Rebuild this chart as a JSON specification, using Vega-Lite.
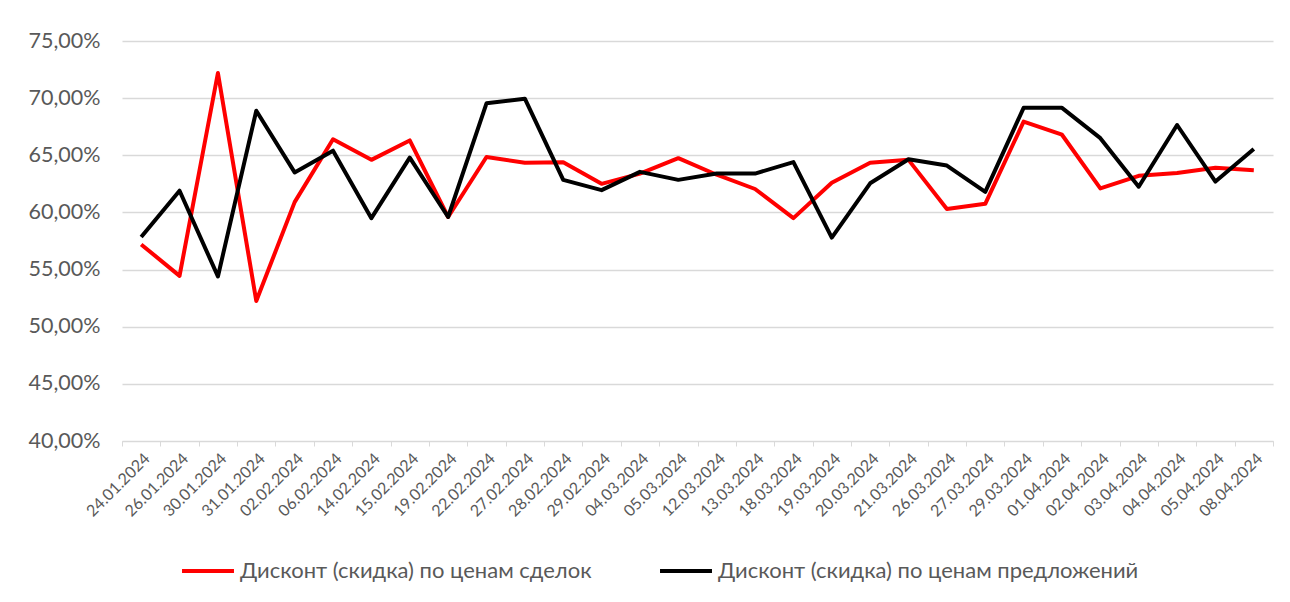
{
  "$schema": "https://vega.github.io/schema/vega-lite/v6.json",
  "width": 1151,
  "height": 400,
  "autosize": {"type": "none"},
  "padding": {"left": 122, "top": 41, "right": 17, "bottom": 161},
  "background": "#ffffff",
  "config": {
    "view": {"stroke": null},
    "font": "Lato"
  },
  "data": {
    "values": [
      {"date": "24.01.2024", "s": "Дисконт (скидка) по ценам сделок", "v": 57.2},
      {"date": "26.01.2024", "s": "Дисконт (скидка) по ценам сделок", "v": 54.45},
      {"date": "30.01.2024", "s": "Дисконт (скидка) по ценам сделок", "v": 72.2},
      {"date": "31.01.2024", "s": "Дисконт (скидка) по ценам сделок", "v": 52.25},
      {"date": "02.02.2024", "s": "Дисконт (скидка) по ценам сделок", "v": 60.9},
      {"date": "06.02.2024", "s": "Дисконт (скидка) по ценам сделок", "v": 66.4},
      {"date": "14.02.2024", "s": "Дисконт (скидка) по ценам сделок", "v": 64.6},
      {"date": "15.02.2024", "s": "Дисконт (скидка) по ценам сделок", "v": 66.3},
      {"date": "19.02.2024", "s": "Дисконт (скидка) по ценам сделок", "v": 59.6},
      {"date": "22.02.2024", "s": "Дисконт (скидка) по ценам сделок", "v": 64.85},
      {"date": "27.02.2024", "s": "Дисконт (скидка) по ценам сделок", "v": 64.35},
      {"date": "28.02.2024", "s": "Дисконт (скидка) по ценам сделок", "v": 64.4},
      {"date": "29.02.2024", "s": "Дисконт (скидка) по ценам сделок", "v": 62.5},
      {"date": "04.03.2024", "s": "Дисконт (скидка) по ценам сделок", "v": 63.4},
      {"date": "05.03.2024", "s": "Дисконт (скидка) по ценам сделок", "v": 64.75},
      {"date": "12.03.2024", "s": "Дисконт (скидка) по ценам сделок", "v": 63.3},
      {"date": "13.03.2024", "s": "Дисконт (скидка) по ценам сделок", "v": 62.05},
      {"date": "18.03.2024", "s": "Дисконт (скидка) по ценам сделок", "v": 59.5},
      {"date": "19.03.2024", "s": "Дисконт (скидка) по ценам сделок", "v": 62.6},
      {"date": "20.03.2024", "s": "Дисконт (скидка) по ценам сделок", "v": 64.35},
      {"date": "21.03.2024", "s": "Дисконт (скидка) по ценам сделок", "v": 64.6},
      {"date": "26.03.2024", "s": "Дисконт (скидка) по ценам сделок", "v": 60.3},
      {"date": "27.03.2024", "s": "Дисконт (скидка) по ценам сделок", "v": 60.75},
      {"date": "29.03.2024", "s": "Дисконт (скидка) по ценам сделок", "v": 67.95},
      {"date": "01.04.2024", "s": "Дисконт (скидка) по ценам сделок", "v": 66.8},
      {"date": "02.04.2024", "s": "Дисконт (скидка) по ценам сделок", "v": 62.1},
      {"date": "03.04.2024", "s": "Дисконт (скидка) по ценам сделок", "v": 63.2},
      {"date": "04.04.2024", "s": "Дисконт (скидка) по ценам сделок", "v": 63.45},
      {"date": "05.04.2024", "s": "Дисконт (скидка) по ценам сделок", "v": 63.9},
      {"date": "08.04.2024", "s": "Дисконт (скидка) по ценам сделок", "v": 63.7},
      {"date": "24.01.2024", "s": "Дисконт (скидка) по ценам предложений", "v": 57.85},
      {"date": "26.01.2024", "s": "Дисконт (скидка) по ценам предложений", "v": 61.9},
      {"date": "30.01.2024", "s": "Дисконт (скидка) по ценам предложений", "v": 54.4},
      {"date": "31.01.2024", "s": "Дисконт (скидка) по ценам предложений", "v": 68.9},
      {"date": "02.02.2024", "s": "Дисконт (скидка) по ценам предложений", "v": 63.5},
      {"date": "06.02.2024", "s": "Дисконт (скидка) по ценам предложений", "v": 65.4},
      {"date": "14.02.2024", "s": "Дисконт (скидка) по ценам предложений", "v": 59.5},
      {"date": "15.02.2024", "s": "Дисконт (скидка) по ценам предложений", "v": 64.8},
      {"date": "19.02.2024", "s": "Дисконт (скидка) по ценам предложений", "v": 59.6},
      {"date": "22.02.2024", "s": "Дисконт (скидка) по ценам предложений", "v": 69.55},
      {"date": "27.02.2024", "s": "Дисконт (скидка) по ценам предложений", "v": 69.95},
      {"date": "28.02.2024", "s": "Дисконт (скидка) по ценам предложений", "v": 62.85},
      {"date": "29.02.2024", "s": "Дисконт (скидка) по ценам предложений", "v": 61.95},
      {"date": "04.03.2024", "s": "Дисконт (скидка) по ценам предложений", "v": 63.55},
      {"date": "05.03.2024", "s": "Дисконт (скидка) по ценам предложений", "v": 62.85},
      {"date": "12.03.2024", "s": "Дисконт (скидка) по ценам предложений", "v": 63.4},
      {"date": "13.03.2024", "s": "Дисконт (скидка) по ценам предложений", "v": 63.4},
      {"date": "18.03.2024", "s": "Дисконт (скидка) по ценам предложений", "v": 64.4},
      {"date": "19.03.2024", "s": "Дисконт (скидка) по ценам предложений", "v": 57.8},
      {"date": "20.03.2024", "s": "Дисконт (скидка) по ценам предложений", "v": 62.55},
      {"date": "21.03.2024", "s": "Дисконт (скидка) по ценам предложений", "v": 64.65},
      {"date": "26.03.2024", "s": "Дисконт (скидка) по ценам предложений", "v": 64.1},
      {"date": "27.03.2024", "s": "Дисконт (скидка) по ценам предложений", "v": 61.8},
      {"date": "29.03.2024", "s": "Дисконт (скидка) по ценам предложений", "v": 69.15},
      {"date": "01.04.2024", "s": "Дисконт (скидка) по ценам предложений", "v": 69.15},
      {"date": "02.04.2024", "s": "Дисконт (скидка) по ценам предложений", "v": 66.5},
      {"date": "03.04.2024", "s": "Дисконт (скидка) по ценам предложений", "v": 62.25},
      {"date": "04.04.2024", "s": "Дисконт (скидка) по ценам предложений", "v": 67.65},
      {"date": "05.04.2024", "s": "Дисконт (скидка) по ценам предложений", "v": 62.7},
      {"date": "08.04.2024", "s": "Дисконт (скидка) по ценам предложений", "v": 65.55}
    ]
  },
  "mark": {"type": "line", "strokeWidth": 4, "strokeJoin": "round", "strokeCap": "butt"},
  "encoding": {
    "x": {
      "field": "date", "type": "ordinal", "sort": null,
      "scale": {"paddingInner": 0, "paddingOuter": 0},
      "axis": {
        "title": null, "labelAngle": -45, "labelFontSize": 16, "labelColor": "#595959",
        "domainColor": "#d9d9d9", "tickColor": "#d9d9d9", "tickBand": "extent", "tickSize": 5,
        "labelPadding": 4, "grid": false
      }
    },
    "y": {
      "field": "v", "type": "quantitative",
      "scale": {"domain": [40, 75], "nice": false, "zero": false},
      "axis": {
        "title": null, "values": [40, 45, 50, 55, 60, 65, 70, 75],
        "labelExpr": "replace(format(datum.value, '.2f'), '.', ',') + '%'",
        "labelFontSize": 21.5, "labelColor": "#595959", "labelPadding": 22,
        "domain": false, "ticks": false, "grid": true, "gridColor": "#d9d9d9", "gridWidth": 1.3
      }
    },
    "color": {
      "field": "s", "type": "nominal",
      "scale": {
        "domain": ["Дисконт (скидка) по ценам сделок", "Дисконт (скидка) по ценам предложений"],
        "range": ["#ff0000", "#000000"]
      },
      "legend": {
        "title": null, "orient": "none", "direction": "horizontal",
        "legendX": 58, "legendY": 502,
        "symbolType": "stroke", "symbolStrokeWidth": 4, "symbolSize": 2700,
        "labelFontSize": 22, "labelColor": "#595959", "labelLimit": 700,
        "columnPadding": 60, "labelOffset": 4
      }
    }
  }
}
